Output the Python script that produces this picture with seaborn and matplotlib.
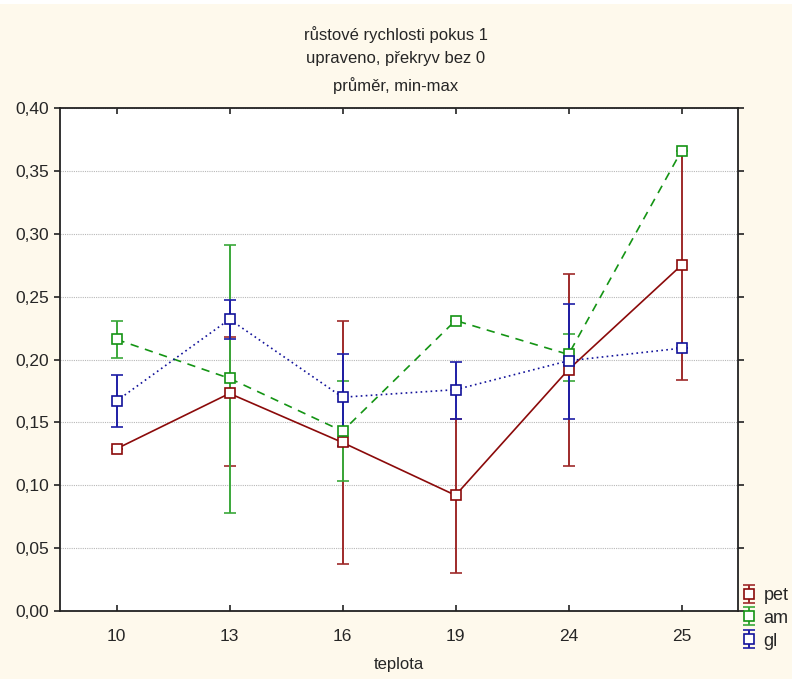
import matplotlib
matplotlib.use("Agg")
import matplotlib.pyplot as plt
import matplotlib.ticker as mticker
import seaborn as sns
import pandas as pd
import numpy as np

# ---- data ----
teplota = ["10", "13", "16", "19", "24", "25"]
series = ["pet", "am", "gl"]

pet_mean = [0.129, 0.173, 0.134, 0.092, 0.192, 0.275]
pet_min = [0.129, 0.115, 0.037, 0.030, 0.115, 0.184]
pet_max = [0.129, 0.218, 0.231, 0.153, 0.268, 0.366]

am_mean = [0.216, 0.185, 0.143, 0.231, 0.204, 0.366]
am_min = [0.201, 0.078, 0.103, 0.231, 0.183, 0.366]
am_max = [0.231, 0.291, 0.183, 0.231, 0.220, 0.366]

gl_mean = [0.167, 0.232, 0.170, 0.176, 0.199, 0.209]
gl_min = [0.146, 0.216, 0.131, 0.153, 0.153, 0.209]
gl_max = [0.188, 0.247, 0.204, 0.198, 0.244, 0.209]

means = {"pet": pet_mean, "am": am_mean, "gl": gl_mean}
mins = {"pet": pet_min, "am": am_min, "gl": gl_min}
maxs = {"pet": pet_max, "am": am_max, "gl": gl_max}

colors = {"pet": "#8B0A0A", "am": "#149414", "gl": "#12129A"}
errcolors = {"pet": "#9E2A2A", "am": "#3AA83A", "gl": "#1E1EA6"}
linestyles = {"pet": "-", "am": (0, (5, 4)), "gl": (0, (1, 2))}

rows = []
for s in series:
    for i, t in enumerate(teplota):
        rows.append({"pos": i, "teplota": t, "serie": s, "value": means[s][i]})
df = pd.DataFrame(rows)

# ---- figure ----
sns.set_style("white")
plt.rcParams["font.family"] = ["Liberation Sans", "DejaVu Sans"]

bg = "#FEF9EC"
fig = plt.figure(figsize=(7.92, 6.79), dpi=100, facecolor=bg)
fig.patches.append(plt.Rectangle((0, 1 - 4 / 679), 1, 4 / 679, transform=fig.transFigure,
                                 facecolor="white", edgecolor="none", zorder=-1))
ax = fig.add_axes([60 / 792, 1 - 611 / 679, (738 - 60) / 792, (611 - 108) / 679])
ax.set_facecolor("white")

for s in series:
    sub = df[df["serie"] == s]
    sns.lineplot(data=sub, x="pos", y="value", ax=ax, color=colors[s], linewidth=1.2,
                 linestyle=linestyles[s], legend=False, zorder=2)

handles = []
for s in series:
    m = np.array(means[s])
    lo = m - np.array(mins[s])
    hi = np.array(maxs[s]) - m
    c = ax.errorbar(np.arange(len(teplota)), m, yerr=[lo, hi], fmt="s", color=errcolors[s],
                    mfc="white", mec=colors[s], ms=7.5, mew=1.2, elinewidth=1.4,
                    capsize=4.5, capthick=1.4, ecolor=errcolors[s], label=s, zorder=3)
    handles.append(c)

ax.set_xlim(-0.5, len(teplota) - 0.5)
ax.set_ylim(0, 0.40)
ax.set_xticks(range(len(teplota)))
ax.set_xticklabels(teplota)
ax.yaxis.set_major_locator(mticker.MultipleLocator(0.05))
ax.yaxis.set_major_formatter(mticker.FuncFormatter(lambda v, p: f"{v:.2f}".replace(".", ",")))

ax.grid(axis="y", color="#B8B8B8", linestyle=(0, (1, 1)), linewidth=0.8)
ax.grid(axis="x", visible=False)
ax.set_axisbelow(True)

for sp in ax.spines.values():
    sp.set_visible(True)
    sp.set_color("#222222")
    sp.set_linewidth(1.3)

ax.tick_params(axis="y", which="both", left=True, right=True, direction="out", length=4,
               width=1.2, color="#222222", labelsize=12.5, pad=4)
ax.tick_params(axis="x", which="both", bottom=True, top=True, direction="in", length=4,
               width=1.2, color="#222222", labelsize=12.5, pad=13)

ax.set_xlabel("teplota", fontsize=12, labelpad=9)
ax.set_ylabel("")

fig.text(0.5, 1 - 35 / 679, "růstové rychlosti pokus 1", ha="center", va="center", fontsize=12)
fig.text(0.5, 1 - 58 / 679, "upraveno, překryv bez 0", ha="center", va="center", fontsize=12)
fig.text(0.5, 1 - 86 / 679, "průměr, min-max", ha="center", va="center", fontsize=12)

leg = fig.legend(handles=handles, labels=series, loc="upper left",
                 bbox_to_anchor=(741 / 792, 1 - 587 / 679), frameon=False,
                 fontsize=13, handlelength=0.9, handletextpad=0.35, labelspacing=0.32,
                 borderpad=0.0, borderaxespad=0.0)

fig.savefig("out.png", dpi=100, facecolor=bg)
